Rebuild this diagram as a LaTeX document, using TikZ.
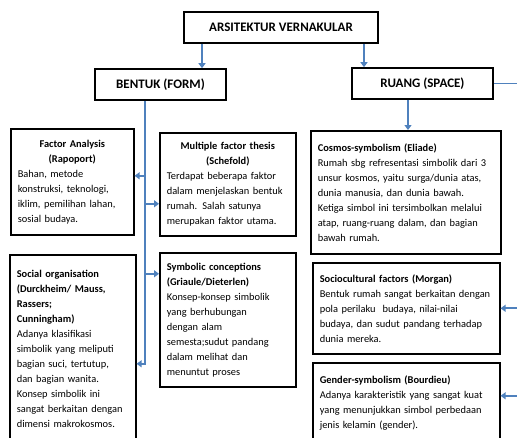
\documentclass[tikz,border=0pt]{standalone}
\usepackage{fontspec}
\setmainfont{Carlito}
\usetikzlibrary{arrows.meta}
\definecolor{linkblue}{RGB}{79,129,189}

\begin{document}
\begin{tikzpicture}[x=1pt,y=-1pt,
  box/.style={draw=black,line width=1.6pt,anchor=north west,inner xsep=7pt,inner ysep=3pt,align=left,font=\fontsize{10.4}{15}\selectfont},
  head/.style={draw=black,line width=1.6pt,minimum height=31pt,inner sep=0pt,font=\bfseries\fontsize{13}{14}\selectfont},
  link/.style={linkblue,line width=1.8pt},
  arr/.style={link,-{Triangle[length=5pt,width=7pt]}}]
\useasboundingbox (0,0) rectangle (517,437);

\node[head,minimum width=194pt] (top) at (281,27.5) {ARSITEKTUR VERNAKULAR};
\node[head,minimum width=131pt] (bentuk) at (160.5,84.5) {BENTUK (FORM)};
\node[head,minimum width=141pt] (ruang) at (422.5,83.5) {RUANG (SPACE)};

\node[box,text width=109pt,minimum height=106pt] (fa) at (10,128)
  {{\centering\bfseries Factor Analysis\\(Rapoport)\par}Bahan, metode\\konstruksi, teknologi,\\iklim, pemilihan lahan,\\sosial budaya.};
\node[box,text width=122pt,minimum height=103pt] (mf) at (159,132)
  {{\centering\bfseries Multiple factor thesis\\(Schefold)\par}Terdapat beberapa faktor\\dalam menjelaskan bentuk\\rumah. Salah satunya\\merupakan faktor utama.};
\node[box,text width=112pt,minimum height=188pt] (so) at (9,254)
  {\textbf{Social organisation}\\\textbf{(Durckheim/ Mauss,}\\\textbf{Rassers;}\\\textbf{Cunningham)}\\Adanya klasifikasi\\simbolik yang meliputi\\bagian suci, tertutup,\\dan bagian wanita.\\Konsep simbolik ini\\sangat berkaitan dengan\\dimensi makrokosmos.};
\node[box,text width=122pt,minimum height=134pt] (sc) at (159,252)
  {\textbf{Symbolic conceptions}\\\textbf{(Griaule/Dieterlen)}\\Konsep-konsep simbolik\\yang berhubungan\\dengan alam\\semesta;sudut pandang\\dalam melihat dan\\menuntut proses};

\node[box,text width=176pt,minimum height=123pt] (cs) at (310,130)
  {\textbf{Cosmos-symbolism (Eliade)}\\Rumah sbg refresentasi simbolik dari 3\\unsur kosmos, yaitu surga/dunia atas,\\dunia manusia, dan dunia bawah.\\Ketiga simbol ini tersimbolkan melalui\\atap, ruang-ruang dalam, dan bagian\\bawah rumah.};
\node[box,text width=173pt,minimum height=91pt] (sf) at (312,262)
  {\textbf{Sociocultural factors (Morgan)}\\Bentuk rumah sangat berkaitan dengan\\pola perilaku\ \ budaya, nilai-nilai\\budaya, dan sudut pandang terhadap\\dunia mereka.};
\node[box,text width=173pt,minimum height=80pt] (gs) at (312,362)
  {\textbf{Gender-symbolism (Bourdieu)}\\Adanya karakteristik yang sangat kuat\\yang menunjukkan simbol perbedaan\\jenis kelamin (gender).};

\coordinate (t1) at ([xshift=-79pt]top.south);
\coordinate (t2) at ([xshift=83pt]top.south);
\draw[arr] (t1) -- (t1 |- bentuk.north);
\draw[arr] (t2) -- (t2 |- ruang.north);

\coordinate (tb) at ([xshift=-15.5pt]bentuk.south);
\coordinate (fa in) at ([yshift=6pt]fa.east);
\coordinate (mf in) at ([yshift=-19.5pt]mf.west);
\coordinate (sc in) at ([yshift=46pt]sc.west);
\coordinate (so in) at ([yshift=-15pt]so.east);
\draw[arr] (tb) |- (so in);
\draw[arr] (fa in -| tb) -- (fa in);
\draw[arr] (mf in -| tb) -- (mf in);
\draw[arr] (sc in -| tb) -- (sc in);

\coordinate (rb) at ([xshift=-14.5pt]ruang.south);
\draw[arr] (rb) -- (rb |- cs.north);
\coordinate (rr) at ([xshift=27pt]ruang.east);
\coordinate (gs in) at ([yshift=7pt]gs.east);
\draw[arr] (ruang.east) -- (rr) |- (gs in);
\draw[arr] (sf.east -| rr) -- (sf.east);

\end{tikzpicture}
\end{document}
